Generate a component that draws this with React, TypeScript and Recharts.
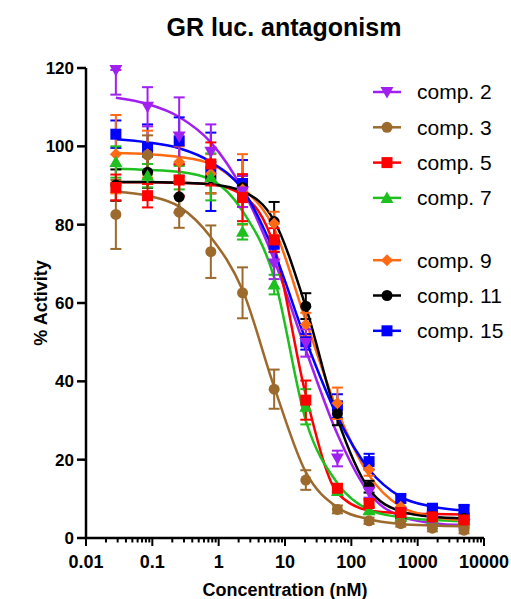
import { ComposedChart, Line, Scatter, ErrorBar, XAxis, YAxis } from 'recharts';

const FONT = '"Liberation Sans", Arial, sans-serif';

// concentrations (nM), 3-fold dilution series
const conc = [0.0282, 0.0847, 0.254, 0.762, 2.29, 6.86, 20.6, 61.7, 185, 556, 1667, 5000];

const comp2Mean = [119.5, 110.1, 102.5, 98.6, 88.5, 70.1, 49.8, 20.3, 11.8, 6.5, 4.5, 3.5];
const comp2Err = [[6.3, 0], 5, 10, 7, 4, 4, 3.5, 2, 1.5, 1, 1, 1];
const comp2Fit = [112.4, 110.8, 107.5, 101, 89, 71, 48, 26.5, 11.5, 5.5, 3.8, 3.3];

const comp3Mean = [82.6, 97.8, 83.2, 73.1, 62.6, 38.0, 14.8, 7.3, 4.4, 3.7, 2.5, 2.0];
const comp3Err = [8.8, 5, 4, 6.7, 6.5, 5, 2.5, 1, 0.8, 0.8, 0.8, 0.8];
const comp3Fit = [88.4, 87.4, 84.6, 76.8, 63.3, 38.6, 16.8, 7.8, 4.8, 3.6, 3.2, 3.0];

const comp5Mean = [89.5, 87.4, 91.4, 95.5, 86.9, 76.1, 35.2, 12.7, 8.8, 6.5, 5.4, 4.6];
const comp5Err = [3.3, 3, 4, 5.5, 6, 3, 5, 1, 1, 1, 1, 1];
const comp5Fit = [90.8, 90.8, 90.7, 90.3, 87.5, 74.5, 36.5, 11.5, 7, 6.3, 6.1, 6.0];

const comp7Mean = [96.0, 92.5, 92, 92.2, 78.2, 64.7, 33.5, 12, 7.1, 5.4, 5, 4.5];
const comp7Err = [4, 3, 3, 6, 2, 2.5, 4.5, 1, 1, 1, 1, 1];
const comp7Fit = [94.3, 94, 93.5, 91.5, 83.5, 66.5, 30, 14, 7.2, 5.3, 4.6, 4.3];

const comp9Mean = [98, 98, 96, 93, 89, 80.3, 54.5, 34.4, 17.4, 8, 5, 4];
const comp9Err = [10, 6, 4, 5, 9, 3, 3, 4, 1.5, 1, 1, 1];
const comp9Fit = [98.3, 98, 97.3, 95.5, 89.5, 79, 55.5, 32.5, 16, 8, 5.5, 4.5];

const comp11Mean = [90.1, 93.4, 87.1, 92, 89.5, 80.8, 59.2, 31.8, 13.1, 6, 5.5, 5];
const comp11Err = [4, 4, 4, 4, 3, 5, 3.3, 3, 1.5, 1, 1, 1];
const comp11Fit = [90.9, 90.9, 90.7, 90.3, 88.5, 81, 59, 30.5, 12.5, 6.8, 5.4, 5.0];

const comp15Mean = [103.1, 99.6, 101.4, 93.5, 90.5, 75, 50.1, 33.7, 19.5, 10.1, 7.6, 7.3];
const comp15Err = [3.5, 6, 6, 10, 6, 2, 2, 3, 2, 1, 1, 1];
const comp15Fit = [101.8, 101, 99.5, 96, 89, 73, 50.5, 31, 17.5, 10.5, 8, 7];

const yTicks = [0, 20, 40, 60, 80, 100, 120];
const xMajorTicks = [0.01, 0.1, 1, 10, 100, 1000, 10000];
const xTickLabels = ['0.01', '0.1', '1', '10', '100', '1000', '10000'];
const xMinorTicks = xMajorTicks.slice(0, -1).flatMap((m) => [2, 3, 4, 5, 6, 7, 8, 9].map((k) => +(m * k).toPrecision(3)));

type Kind = 'triDown' | 'triUp' | 'circle' | 'square' | 'diamond';

const series: { name: string; color: string; kind: Kind; mean: number[]; err: any[]; fit: number[] }[] = [
  { name: 'comp. 2', color: '#a020f0', kind: 'triDown', mean: comp2Mean, err: comp2Err, fit: comp2Fit },
  { name: 'comp. 3', color: '#9c6a2c', kind: 'circle', mean: comp3Mean, err: comp3Err, fit: comp3Fit },
  { name: 'comp. 5', color: '#ff0000', kind: 'square', mean: comp5Mean, err: comp5Err, fit: comp5Fit },
  { name: 'comp. 7', color: '#1fbf1f', kind: 'triUp', mean: comp7Mean, err: comp7Err, fit: comp7Fit },
  { name: 'comp. 9', color: '#ff6a13', kind: 'diamond', mean: comp9Mean, err: comp9Err, fit: comp9Fit },
  { name: 'comp. 11', color: '#000000', kind: 'circle', mean: comp11Mean, err: comp11Err, fit: comp11Fit },
  { name: 'comp. 15', color: '#0000ff', kind: 'square', mean: comp15Mean, err: comp15Err, fit: comp15Fit },
];

// points drawn bottom -> top
const drawOrder = [6, 5, 4, 3, 0, 1, 2];

function Marker({ kind, cx, cy, color }: { kind: Kind; cx: number; cy: number; color: string }) {
  const h = 5.5;
  if (kind === 'square') return <rect x={cx - h} y={cy - h} width={h * 2} height={h * 2} fill={color} />;
  if (kind === 'circle') return <circle cx={cx} cy={cy} r={h} fill={color} />;
  if (kind === 'triUp')
    return <polygon points={`${cx},${cy - 6.5} ${cx + 6.5},${cy + 5} ${cx - 6.5},${cy + 5}`} fill={color} />;
  if (kind === 'triDown')
    return <polygon points={`${cx - 6.5},${cy - 5} ${cx + 6.5},${cy - 5} ${cx},${cy + 6.5}`} fill={color} />;
  return <polygon points={`${cx},${cy - 6} ${cx + 6},${cy} ${cx},${cy + 6} ${cx - 6},${cy}`} fill={color} />;
}

function XTick({ x, y, payload }: any) {
  const idx = xMajorTicks.indexOf(payload.value);
  const major = idx >= 0;
  return (
    <g>
      <line x1={x} x2={x} y1={y} y2={y + (major ? 8 : 4.5)} stroke="#000" strokeWidth={2} />
      {major && (
        <text x={x} y={y + 30} textAnchor="middle" fontSize={18} fontWeight="bold" fontFamily={FONT} fill="#000">
          {xTickLabels[idx]}
        </text>
      )}
    </g>
  );
}

export default function App() {
  return (
    <div style={{ position: 'relative', width: 511, height: 599, background: '#fff' }}>
      <style>{'body{margin:0}'}</style>
      <ComposedChart width={511} height={599} margin={{ top: 68, right: 27, left: 0, bottom: 21 }}>
        <XAxis
          dataKey="x"
          type="number"
          scale="log"
          domain={[0.01, 10000]}
          ticks={[...xMajorTicks, ...xMinorTicks]}
          interval={0}
          tick={<XTick />}
          tickLine={false}
          tickSize={0}
          tickMargin={0}
          axisLine={{ stroke: '#000', strokeWidth: 2.5 }}
          height={40}
        />
        <YAxis
          type="number"
          domain={[0, 120]}
          ticks={yTicks}
          interval={0}
          width={86}
          tickSize={9}
          tickMargin={3}
          axisLine={{ stroke: '#000', strokeWidth: 2.5 }}
          tickLine={{ stroke: '#000', strokeWidth: 2.5 }}
          tick={{ fontSize: 17, fontWeight: 'bold', fill: '#000', fontFamily: FONT }}
        />
        {series.map((s) => (
          <Line
            key={'fit-' + s.name}
            data={s.fit.map((v, i) => ({ x: conc[i], y: v }))}
            dataKey="y"
            type="monotone"
            stroke={s.color}
            strokeWidth={2.5}
            dot={false}
            activeDot={false}
            isAnimationActive={false}
            legendType="none"
          />
        ))}
        {drawOrder.map((k) => {
          const s = series[k];
          return (
            <Scatter
              key={'pts-' + s.name}
              name={s.name}
              data={s.mean.map((v, i) => ({ x: conc[i], y: v, err: s.err[i] }))}
              dataKey="y"
              isAnimationActive={false}
              shape={(p: any) => <Marker kind={s.kind} cx={p.cx} cy={p.cy} color={s.color} />}
            >
              <ErrorBar dataKey="err" direction="y" width={5.5} stroke={s.color} strokeWidth={2} />
            </Scatter>
          );
        })}
      </ComposedChart>
      <svg
        width={511}
        height={599}
        style={{ position: 'absolute', left: 0, top: 0, pointerEvents: 'none' }}
        fontFamily={FONT}
      >
        <text x={284} y={27} dy="0.35em" textAnchor="middle" fontSize={25} fontWeight="bold" fill="#000">
          GR luc. antagonism
        </text>
        <text
          x={41}
          y={303}
          dy="0.35em"
          textAnchor="middle"
          fontSize={18}
          fontWeight="bold"
          fill="#000"
          transform="rotate(-90 41 303)"
        >
          % Activity
        </text>
        <text x={285} y={590} dy="0.35em" textAnchor="middle" fontSize={18} fontWeight="bold" fill="#000">
          Concentration (nM)
        </text>
        {series.map((s, i) => {
          const y = 92 + i * 35.3 + (i >= 4 ? 27 : 0);
          return (
            <g key={'leg-' + s.name}>
              <line x1={373} x2={401} y1={y} y2={y} stroke={s.color} strokeWidth={2.5} />
              <Marker kind={s.kind} cx={387} cy={y} color={s.color} />
              <text x={417} y={y} dy="0.35em" fontSize={21} fill="#000">
                {s.name}
              </text>
            </g>
          );
        })}
      </svg>
    </div>
  );
}
